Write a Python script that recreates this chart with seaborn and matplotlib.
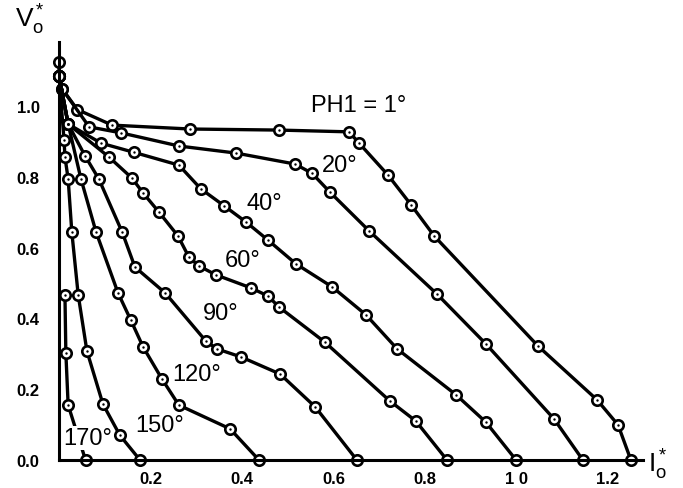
import numpy as np
import pandas as pd
import seaborn as sns
import matplotlib.pyplot as plt

# I-V curves (normalised), one pair of lists per PH1 angle
ph1_i = [0.0, 0.0, 0.007, 0.04, 0.116, 0.286, 0.48, 0.634, 0.656, 0.719, 0.77, 0.82, 1.047, 1.176, 1.222, 1.25]
ph1_v = [1.125, 1.085, 1.048, 0.99, 0.946, 0.935, 0.932, 0.927, 0.895, 0.805, 0.72, 0.633, 0.322, 0.17, 0.099, 0.0]

ph20_i = [0.0, 0.007, 0.066, 0.136, 0.262, 0.387, 0.516, 0.553, 0.592, 0.678, 0.826, 0.933, 1.082, 1.145]
ph20_v = [1.085, 1.048, 0.941, 0.924, 0.887, 0.867, 0.836, 0.81, 0.757, 0.647, 0.469, 0.328, 0.116, 0.0]

ph40_i = [0.0, 0.02, 0.092, 0.164, 0.262, 0.31, 0.361, 0.409, 0.457, 0.518, 0.597, 0.671, 0.739, 0.868, 0.933, 0.999]
ph40_v = [1.085, 0.949, 0.895, 0.869, 0.833, 0.766, 0.718, 0.672, 0.621, 0.554, 0.489, 0.41, 0.314, 0.184, 0.107, 0.0]

ph60_i = [0.0, 0.02, 0.109, 0.159, 0.184, 0.218, 0.26, 0.284, 0.306, 0.343, 0.42, 0.457, 0.481, 0.581, 0.723, 0.78, 0.848]
ph60_v = [1.085, 0.949, 0.856, 0.797, 0.754, 0.701, 0.633, 0.573, 0.548, 0.523, 0.486, 0.463, 0.432, 0.333, 0.167, 0.11, 0.0]

ph90_i = [0.0, 0.02, 0.057, 0.087, 0.138, 0.166, 0.232, 0.321, 0.345, 0.398, 0.483, 0.56, 0.651]
ph90_v = [1.085, 0.949, 0.859, 0.794, 0.644, 0.545, 0.472, 0.336, 0.314, 0.291, 0.243, 0.15, 0.0]

ph120_i = [0.0, 0.02, 0.048, 0.081, 0.129, 0.157, 0.184, 0.225, 0.262, 0.374, 0.437]
ph120_v = [1.085, 0.949, 0.794, 0.644, 0.472, 0.395, 0.319, 0.229, 0.155, 0.088, 0.0]

ph150_i = [0.0, 0.011, 0.013, 0.02, 0.028, 0.042, 0.061, 0.096, 0.133, 0.177]
ph150_v = [1.085, 0.904, 0.856, 0.794, 0.644, 0.466, 0.308, 0.158, 0.07, 0.0]

ph170_i = [0.013, 0.015, 0.02, 0.058]
ph170_v = [0.466, 0.302, 0.155, 0.0]

curves = [
    (ph1_i, ph1_v), (ph20_i, ph20_v), (ph40_i, ph40_v), (ph60_i, ph60_v),
    (ph90_i, ph90_v), (ph120_i, ph120_v), (ph150_i, ph150_v), (ph170_i, ph170_v),
]

# curve labels and where they sit
label_text = ["PH1 = 1°", "20°", "40°", "60°", "90°", "120°", "150°", "170°"]
label_x = [0.656, 0.614, 0.448, 0.402, 0.354, 0.301, 0.219, 0.063]
label_y = [1.003, 0.833, 0.726, 0.565, 0.415, 0.243, 0.099, 0.062]

x_ticks = [0.2, 0.4, 0.6, 0.8, 1.0, 1.2]
x_ticklabels = ["0.2", "0.4", "0.6", "0.8", "1 0", "1.2"]
y_ticks = [0.0, 0.2, 0.4, 0.6, 0.8, 1.0]
y_ticklabels = ["0.0", "0.2", "0.4", "0.6", "0.8", "1.0"]

sns.set_theme(style="white")
plt.rcParams["font.family"] = ["Liberation Sans", "DejaVu Sans"]
plt.rcParams["text.color"] = "black"
plt.rcParams["mathtext.fontset"] = "custom"
plt.rcParams["mathtext.rm"] = "Liberation Sans"
plt.rcParams["mathtext.it"] = "Liberation Sans"

W, H = 683, 489
fig = plt.figure(figsize=(W / 100, H / 100), dpi=100)
x0, y0 = 59, 461          # pixel position of the origin
sx, sy = 457.5, 354       # pixels per unit
xmax, ymax = 1.277, 1.18
ax = fig.add_axes([x0 / W, (H - y0) / H, xmax * sx / W, ymax * sy / H])

for ci, cv in curves:
    df = pd.DataFrame({"I": ci, "V": cv})
    sns.lineplot(data=df, x="I", y="V", sort=False, estimator=None, ax=ax,
                 color="black", lw=2.4, marker="o", markersize=7.5,
                 markerfacecolor="white", markeredgecolor="black",
                 markeredgewidth=1.9, clip_on=False, zorder=2)
    sns.scatterplot(data=df, x="I", y="V", ax=ax, s=3, color="black",
                    linewidth=0, clip_on=False, zorder=4)

for t, lx, ly in zip(label_text, label_x, label_y):
    kw = {}
    if t == "170°":
        kw["bbox"] = dict(facecolor="white", edgecolor="none", pad=0.5)
    ax.text(lx, ly, t, fontsize=17, color="black", ha="center", va="center", zorder=5, **kw)

ax.set_xlim(0, xmax)
ax.set_ylim(0, ymax)
ax.set_xticks(x_ticks)
ax.set_xticklabels(x_ticklabels, fontweight="bold", fontsize=12)
ax.set_yticks(y_ticks)
ax.set_yticklabels(y_ticklabels, fontweight="bold", fontsize=12)
ax.tick_params(axis="x", direction="inout", length=10, width=1.6, pad=3, colors="black")
ax.tick_params(axis="y", direction="out", length=9, width=1.9, pad=5, colors="black")
ax.set_xlabel("")
ax.set_ylabel("")
for side in ["top", "right"]:
    ax.spines[side].set_visible(False)
for side in ["left", "bottom"]:
    ax.spines[side].set_color("black")
    ax.spines[side].set_linewidth(2.2)

fig.text(15 / W, 1 - 20 / H, r"$\mathregular{V_o^*}$", fontsize=19, color="black", ha="left", va="center")
fig.text(648 / W, 1 - 465 / H, r"$\mathregular{I_o^*}$", fontsize=19, color="black", ha="left", va="center")

fig.savefig("out.png", dpi=100)
